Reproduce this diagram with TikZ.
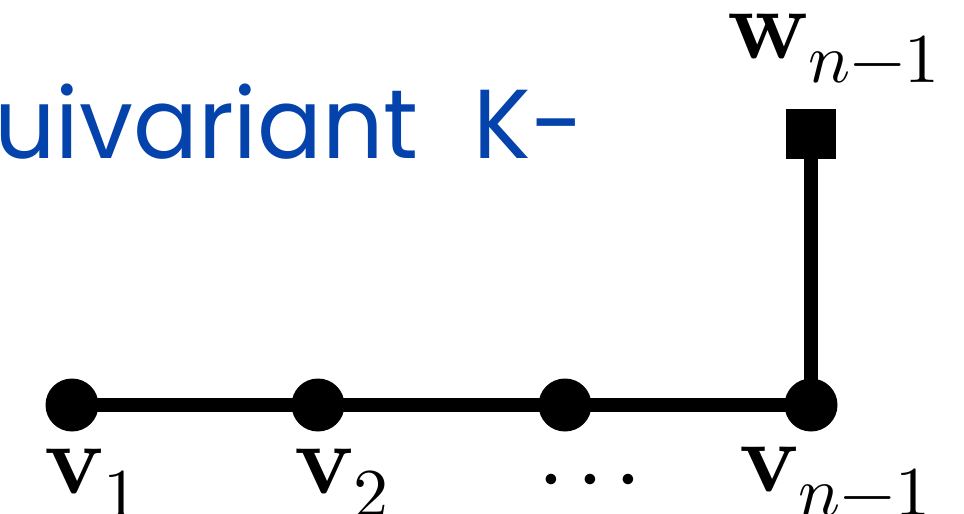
\documentclass[tikz,border=0pt]{standalone}
\usepackage{fontspec}
\usepackage{unicode-math}
\setmathfont{Latin Modern Math}
\newfontfamily\comicfont{Poppins}
\usetikzlibrary{backgrounds}
\definecolor{titleblue}{RGB}{4,67,171}
\tikzset{
  vert/.style={circle,fill=black,inner sep=0pt,minimum size=53pt},
  sqnode/.style={fill=black,inner sep=0pt,minimum size=50pt},
  edgeline/.style={line width=13.5pt},
  lab/.style={font=\fontsize{100}{110}\selectfont,inner sep=0pt},
  titletext/.style={font=\comicfont\fontsize{98}{110}\selectfont,text=titleblue,inner sep=0pt}
}
\begin{document}
\begin{tikzpicture}[x=1pt,y=-1pt]
\useasboundingbox (0,0) rectangle (964,514);
\node[titletext,anchor=base west] (title) at (-6,158) {\scalebox{0.98}[1]{uivariant\hspace{30pt} K-}};
\node[vert] (v1) at (72,405) {};
\node[vert] (v2) at (318,405) {};
\node[vert] (v3) at (565,405) {};
\node[vert] (v4) at (811,405) {};
\node[sqnode] (w) at (811,134) {};
\begin{scope}[on background layer]
\draw[edgeline] (v1.center) -- (v2.center);
\draw[edgeline] (v2.center) -- (v3.center);
\draw[edgeline] (v3.center) -- (v4.center);
\draw[edgeline] (v4.center) -- (w.center);
\end{scope}
\node[lab,anchor=base west] (l1) at (44,493) {$\mathbf{v}_1$};
\node[lab,anchor=base west] (l2) at (294,493) {$\mathbf{v}_2$};
\node[lab,anchor=base] (ld) at (590,504) {${\cdot}\mkern2mu{\cdot}\mkern2mu{\cdot}$};
\node[lab,anchor=base west] (l4) at (739,491) {$\mathbf{v}_{n-1}$};
\node[lab,anchor=base west] (lw) at (727,58) {$\mathbf{w}_{n-1}$};
\end{tikzpicture}
\end{document}
